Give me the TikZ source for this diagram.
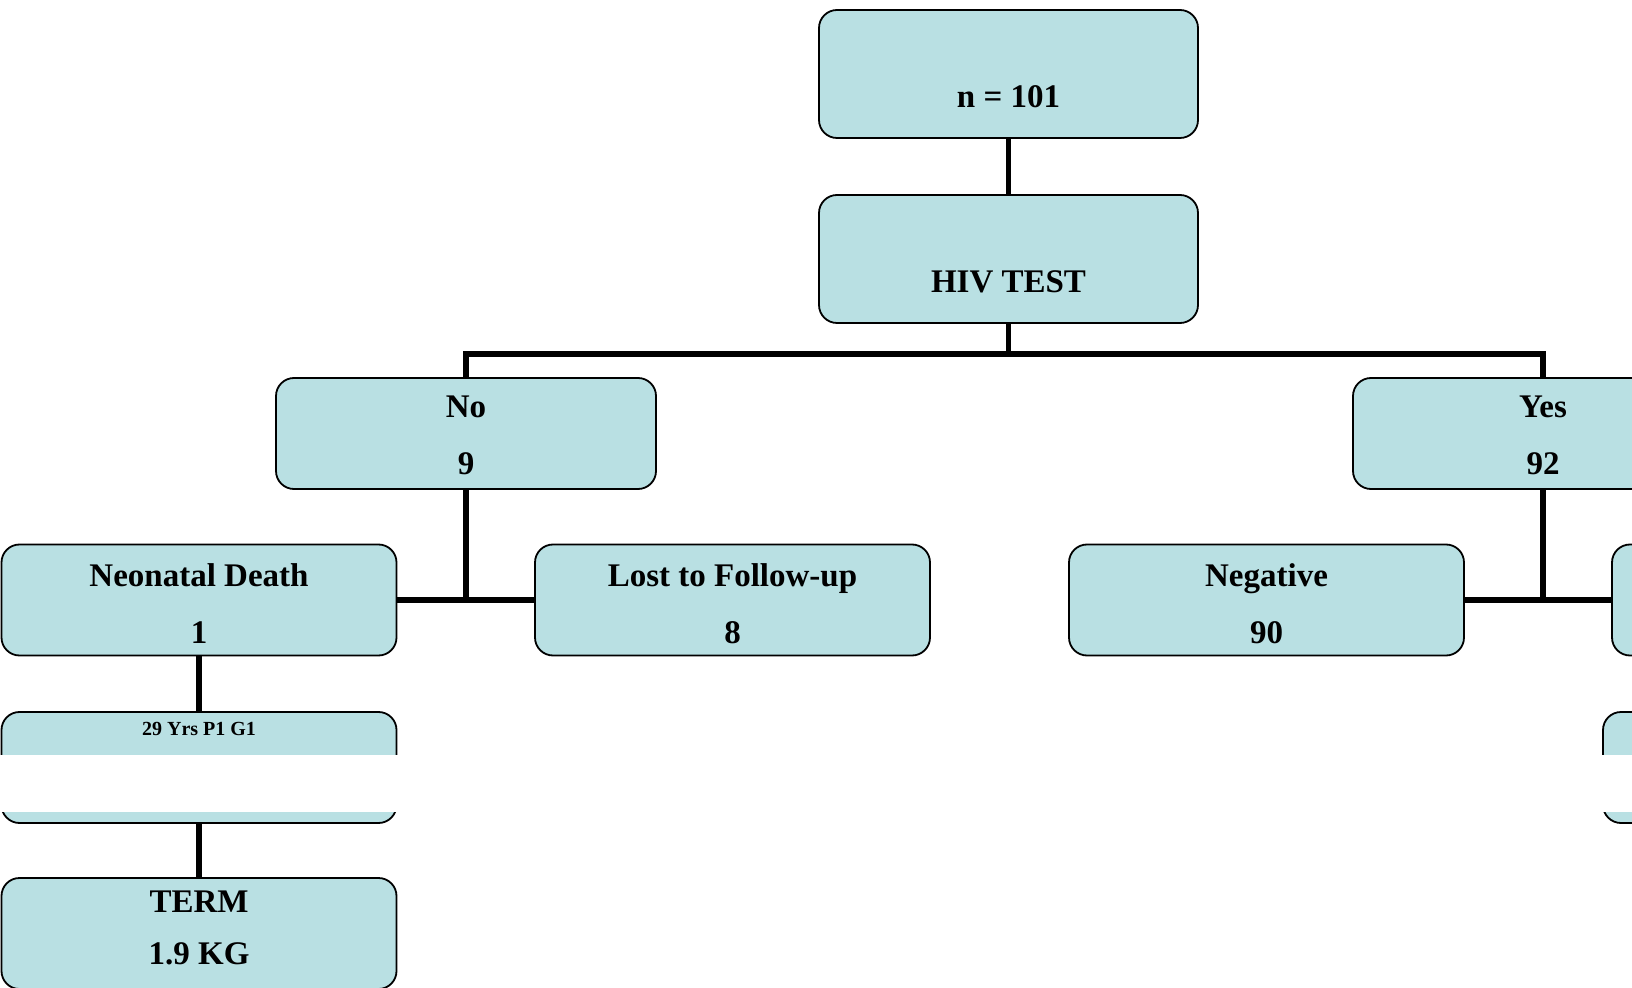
\documentclass[tikz,border=0pt]{standalone}
\usepackage{fontspec}
\setmainfont{Liberation Serif}
\usepackage{tikz}
\definecolor{boxblue}{RGB}{185,224,227}

\begin{document}
\begin{tikzpicture}[x=0.5pt,y=-0.5pt,
    box/.style={draw=black,line width=0.9pt,fill=boxblue,rounded corners=9pt,
      minimum width=197.5pt,minimum height=55.5pt,align=center,inner sep=2pt,
      text height=45pt,text depth=2pt,
      font=\bfseries\fontsize{16.5}{28.5}\selectfont},
    headbox/.style={box,minimum width=189.5pt,minimum height=64pt,
      text height=40pt,text depth=6pt},
    branchbox/.style={box,minimum width=190pt,text height=44pt,text depth=2.5pt},
    link/.style={line width=2.6pt}]
      \clip (0,0) rectangle (1632,988);

      \node[headbox] (total) at (1008.5,74) {n = 101};
      \node[headbox] (hiv) at (1008.5,259) {HIV TEST};
      \node[branchbox] (no) at (466,433.5) {No\\9};
      \node[branchbox] (yes) at (1543,433.5) {Yes\\92};

      \node[box] (death) at (199,600) {Neonatal Death\\1};
      \node[box] (lost) at (732.5,600) {Lost to Follow-up\\8};
      \node[box] (neg) at (1266.5,600) {Negative\\90};
      \node[box] (pos) at (1809.5,600) {};

      \node[box,text height=8pt,text depth=40pt,
        font=\bfseries\fontsize{10}{12}\selectfont] (age) at (199,767.5) {29 Yrs P1 G1};
      \node[box] (agepos) at (1800.5,767.5) {};
      \node[box,text height=36pt,text depth=5.5pt,
        font=\bfseries\fontsize{16.5}{26}\selectfont] (term) at (199,933.5) {TERM\\1.9 KG};

      % band that hides the middle row
      \fill [white] (0,755) rectangle (1632,812);

      \coordinate (bus) at (1008.5,354);
      \draw[link] (total) -- (hiv);
      \draw[link] (hiv) -- (bus);
      \draw[link] (no.north) |- (bus) -| (yes.north);
      \draw[link] (no.south) -- (no.south |- death.east);
      \draw[link] (death.east) -- (lost.west);
      \draw[link] (yes.south) -- (yes.south |- neg.east);
      \draw[link] (neg.east) -- (pos.west);
      \draw[link] (death) -- (age);
      \draw[link] (age) -- (term);
    \end{tikzpicture}
\end{document}
